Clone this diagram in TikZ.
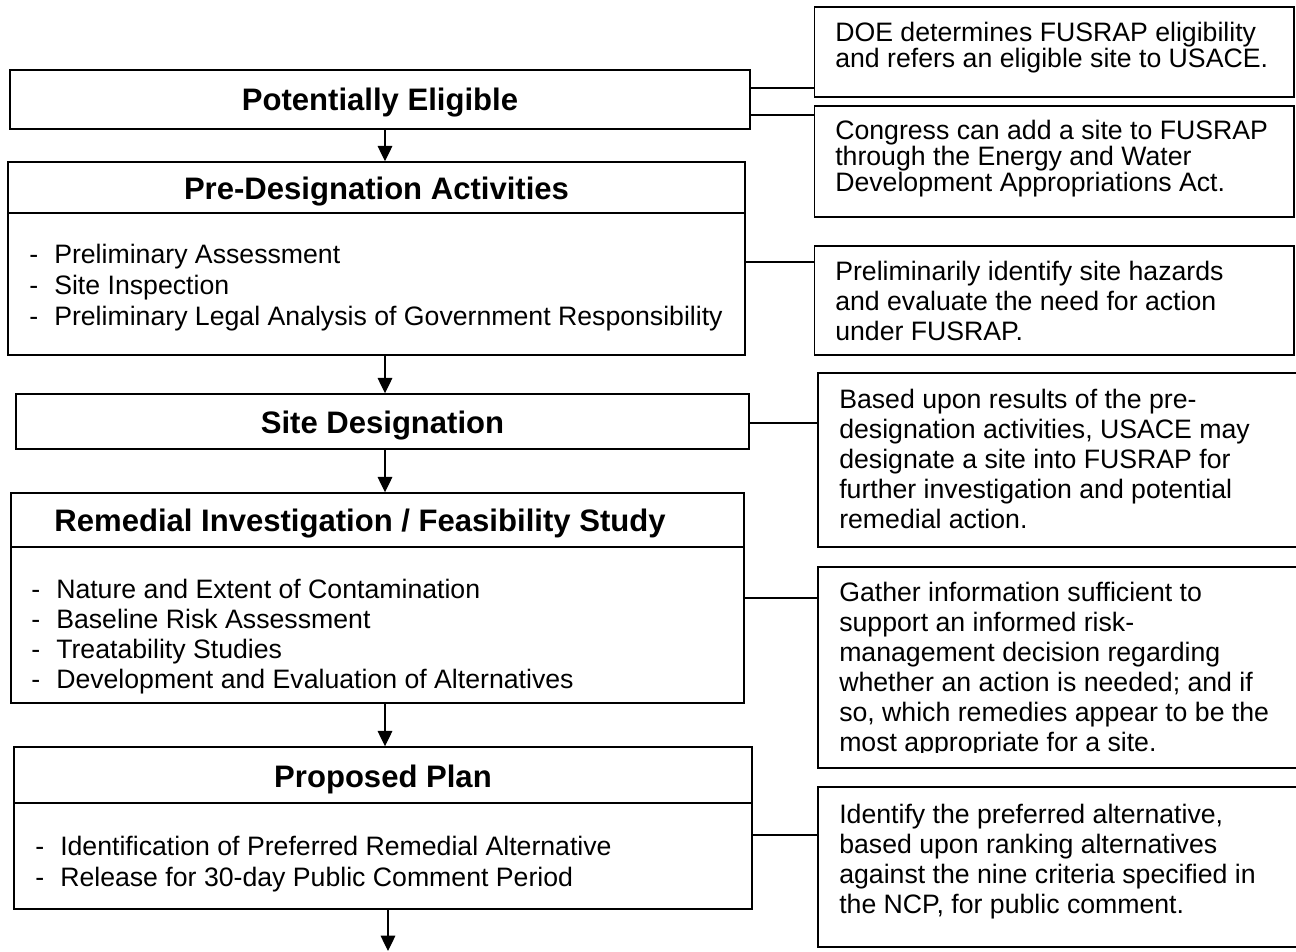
\documentclass[tikz,border=0pt]{standalone}
\usepackage{fontspec}
\setmainfont{Liberation Sans}
\usetikzlibrary{arrows.meta,positioning}
\newcommand{\listdash}{\makebox[18.75pt][l]{-}}

\tikzset{
	stagebox/.style={draw,line width=1.1pt,inner sep=0pt},
	notebox/.style={draw,line width=1.1pt,inner sep=0pt},
	head/.style={font=\fontsize{23.3}{28}\selectfont\bfseries,inner sep=0pt,anchor=base},
	item/.style={font=\fontsize{20}{23}\selectfont,inner sep=0pt,anchor=base west},
	note/.style={font=\fontsize{20}{23}\selectfont,inner sep=0pt,anchor=base west},
	link/.style={line width=0.9pt},
	flow/.style={line width=0.9pt,-{Triangle[length=11.5pt,width=11pt]}}
}

\begin{document}
\begin{tikzpicture}[x=0.75pt,y=-0.75pt]
					\useasboundingbox (0,0) rectangle (1296,951);
					\clip (0,0) rectangle (1296,951);
					\coordinate (ax) at (385,0);
					\coordinate (out) at (388,951);
					
					\node (pe) at (380,99.5) [stagebox,minimum width=555pt,minimum height=44.25pt] {};
					\node (pda) at (376.5,258.5) [stagebox,minimum width=552.75pt,minimum height=144.75pt] {};
					\node (sd) at (382.5,421.5) [stagebox,minimum width=549.75pt,minimum height=41.25pt] {};
					\node (rifs) at (377.5,598) [stagebox,minimum width=549.75pt,minimum height=157.5pt] {};
					\node (pp) at (383,828) [stagebox,minimum width=553.5pt,minimum height=121.5pt] {};
					
					\draw[line width=1.1pt] (pda.west |- 0,213) -- (pda.east |- 0,213);
					\draw[line width=1.1pt] (rifs.west |- 0,547) -- (rifs.east |- 0,547);
					\draw[line width=1.1pt] (pp.west |- 0,803) -- (pp.east |- 0,803);
					
					\node (doe) at (1054.25,52) [notebox,minimum width=359.6pt,minimum height=67.5pt] {};
					\node (congress) at (1054.25,161.5) [notebox,minimum width=359.6pt,minimum height=83.25pt] {};
					\node (hazards) at (1054.25,300.5) [notebox,minimum width=359.6pt,minimum height=81.75pt] {};
					\node (designate) at (1061,460) [notebox,minimum width=364.5pt,minimum height=130.5pt] {};
					\node (gather) at (1061,667.5) [notebox,minimum width=364.5pt,minimum height=150.75pt] {};
					\node (preferred) at (1061,867) [notebox,minimum width=364.5pt,minimum height=120pt] {};
					
					\draw[flow] (pe.south -| ax) -- (pda.north -| ax);
					\draw[flow] (pda.south -| ax) -- (sd.north -| ax);
					\draw[flow] (sd.south -| ax) -- (rifs.north -| ax);
					\draw[flow] (rifs.south -| ax) -- (pp.north -| ax);
					\draw[flow] (pp.south -| out) -- (out);
					
					\draw[link] (pe.east |- 0,88) -- (doe.west |- 0,88);
					\draw[link] (pe.east |- 0,115) -- (congress.west |- 0,115);
					\draw[link] (pda.east |- 0,262) -- (hazards.west |- 0,262);
					\draw[link] (sd.east |- 0,423) -- (designate.west |- 0,423);
					\draw[link] (rifs.east |- 0,598) -- (gather.west |- 0,598);
					\draw[link] (pp.east |- 0,835) -- (preferred.west |- 0,835);
					
					\node (h1) at (380,110) [head] {Potentially Eligible};
					\node (h2) at (376.5,199) [head] {Pre-Designation Activities};
					\node (h3) at (382.5,433) [head] {Site Designation};
					\node (h4) at (360,531) [head] {Remedial Investigation / Feasibility Study};
					\node (h5) at (383,787) [head] {Proposed Plan};
					
					\node (i1) at (29,263) [item] {\listdash Preliminary Assessment};
					\node (i2) at (29,294) [item] {\listdash Site Inspection};
					\node (i3) at (29,325) [item] {\listdash Preliminary Legal Analysis of Government Responsibility};
					\node (i4) at (31,598) [item] {\listdash Nature and Extent of Contamination};
					\node (i5) at (31,628) [item] {\listdash Baseline Risk Assessment};
					\node (i6) at (31,658) [item] {\listdash Treatability Studies};
					\node (i7) at (31,688) [item] {\listdash Development and Evaluation of Alternatives};
					\node (i8) at (35,855) [item] {\listdash Identification of Preferred Remedial Alternative};
					\node (i9) at (35,886) [item] {\listdash Release for 30-day Public Comment Period};
					
					\node (a1) at (835,41) [note] {DOE determines FUSRAP eligibility};
					\node (a2) at (835,67) [note] {and refers an eligible site to USACE.};
					\node (b1) at (835,139) [note] {Congress can add a site to FUSRAP};
					\node (b2) at (835,165) [note] {through the Energy and Water};
					\node (b3) at (835,191) [note] {Development Appropriations Act.};
					\node (c1) at (835,280) [note] {Preliminarily identify site hazards};
					\node (c2) at (835,310) [note] {and evaluate the need for action};
					\node (c3) at (835,340) [note] {under FUSRAP.};
					\node (d1) at (839,408) [note] {Based upon results of the pre-};
					\node (d2) at (839,438) [note] {designation activities, USACE may};
					\node (d3) at (839,468) [note] {designate a site into FUSRAP for};
					\node (d4) at (839,498) [note] {further investigation and potential};
					\node (d5) at (839,528) [note] {remedial action.};
					\begin{scope}
					\clip (818,570) rectangle (1300,752);
					\node (e1) at (839,601) [note] {Gather information sufficient to};
					\node (e2) at (839,631) [note] {support an informed risk-};
					\node (e3) at (839,661) [note] {management decision regarding};
					\node (e4) at (839,691) [note] {whether an action is needed; and if};
					\node (e5) at (839,721) [note] {so, which remedies appear to be the};
					\node (e6) at (839,751) [note] {most appropriate for a site.};
					\end{scope}
					\node (f1) at (839,823) [note] {Identify the preferred alternative,};
					\node (f2) at (839,853) [note] {based upon ranking alternatives};
					\node (f3) at (839,883) [note] {against the nine criteria specified in};
					\node (f4) at (839,913) [note] {the NCP, for public comment.};
\end{tikzpicture}
\end{document}
